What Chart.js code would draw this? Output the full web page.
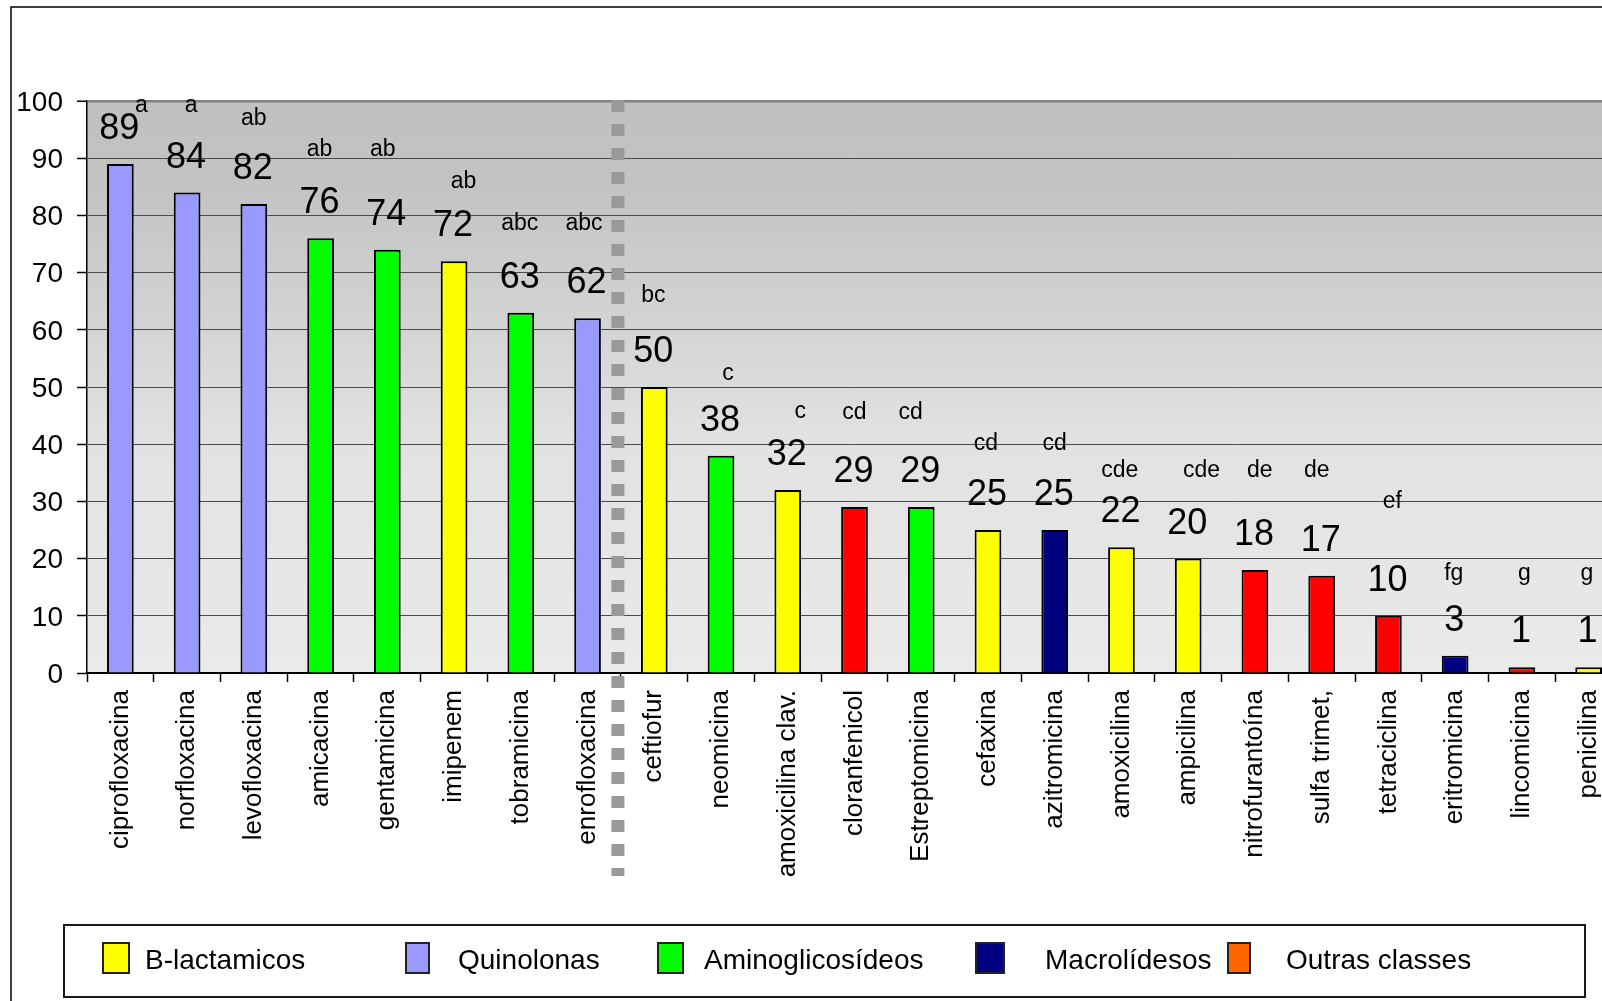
<!DOCTYPE html>
<html>
<head>
<meta charset="utf-8">
<title>Resistência antimicrobiana</title>
<script src="https://cdn.jsdelivr.net/npm/chart.js@4.4.1/dist/chart.umd.min.js"></script>
<style>
  html, body { margin: 0; padding: 0; background: #fff; overflow: hidden; }
  #wrap { width: 1602px; height: 1001px; overflow: hidden; position: relative; }
</style>
</head>
<body>
<div id="wrap"><canvas id="chart" width="1700" height="1001"></canvas></div>
<script>
// --- data ---
const antibiotics = [
    'ciprofloxacina', 'norfloxacina', 'levofloxacina', 'amicacina', 'gentamicina',
    'imipenem', 'tobramicina', 'enrofloxacina', 'ceftiofur', 'neomicina',
    'amoxicilina clav.', 'cloranfenicol', 'Estreptomicina', 'cefaxina', 'azitromicina',
    'amoxicilina', 'ampicilina', 'nitrofurantoína', 'sulfa trimet,', 'tetraciclina',
    'eritromicina', 'lincomicina', 'penicilina'
];
const resistance = [89, 84, 82, 76, 74, 72, 63, 62, 50, 38, 32, 29, 29, 25, 25, 22, 20, 18, 17, 10, 3, 1, 1];
// B = B-lactamicos, Q = Quinolonas, A = Aminoglicosídeos, M = Macrolídesos, O = outras
const drugClass = ['Q', 'Q', 'Q', 'A', 'A', 'B', 'A', 'Q', 'B', 'A', 'B', 'O', 'A', 'B', 'M', 'B', 'B', 'O', 'O', 'O', 'M', 'O', 'B'];
const groupLetters = ['a', 'a', 'ab', 'ab', 'ab', 'ab', 'abc', 'abc', 'bc', 'c', 'c', 'cd', 'cd', 'cd', 'cd', 'cde', 'cde', 'de', 'de', 'ef', 'fg', 'g', 'g'];
const yTicks = [0, 10, 20, 30, 40, 50, 60, 70, 80, 90, 100];
const legendKeys = ['B', 'Q', 'A', 'M', 'O'];
const legendLabels = ['B-lactamicos', 'Quinolonas', 'Aminoglicosídeos', 'Macrolídesos', 'Outras classes'];

// --- styles ---
const FONT = "'Liberation Sans', Arial, Helvetica, sans-serif";
const barColors = { B: '#FFFF00', Q: '#9999FF', A: '#00FF00', M: '#000080', O: '#FF0000' };
const legendColors = { B: '#FFFF00', Q: '#9999FF', A: '#00FF00', M: '#000080', O: '#FF6600' };

// where each significance letter sits: [x shift in px from bar centre, height in axis units]
const letterPlacement = [
    [21, 98.1], [4, 98.0], [0, 95.8], [-1, 90.3], [-4.5, 90.3], [9.5, 84.8],
    [-1, 77.4], [-3.6, 77.4], [-1, 64.8], [7, 51.2], [12.6, 44.6], [0, 44.4],
    [-10.6, 44.4], [-2, 38.9], [0, 38.9], [-1.6, 34.2], [13.3, 34.2], [4.8, 34.2],
    [-4.8, 34.2], [4, 28.8], [-1.4, 16.3], [2.6, 16.3], [-1.7, 16.3]
];

// legend item layout: [swatch x, swatch width, text x]
const legendLayout = [[103, 26, 145], [406, 23, 458], [658, 25, 704], [976, 28, 1045], [1228, 22, 1286]];

// gradient fill behind the bars
const plotBackground = {
    id: 'plotBackground',
    beforeDraw(chart) {
        const { ctx, chartArea: a } = chart;
        const g = ctx.createLinearGradient(0, a.top, 0, a.bottom);
        g.addColorStop(0, '#c0c0c0');
        g.addColorStop(0.15, '#c3c3c3');
        g.addColorStop(0.6, '#e2e2e2');
        g.addColorStop(1, '#eaeaea');
        ctx.save();
        ctx.fillStyle = g;
        ctx.fillRect(a.left, a.top, a.right - a.left, a.bottom - a.top);
        ctx.restore();
    }
};

// value labels, letters and the dotted separator between groups
const barAnnotations = {
    id: 'barAnnotations',
    afterDatasetsDraw(chart) {
        const { ctx } = chart;
        const meta = chart.getDatasetMeta(0);
        const yScale = chart.scales.y;
        const xScale = chart.scales.x;
        ctx.save();
        ctx.fillStyle = '#000';
        ctx.textAlign = 'center';
        ctx.textBaseline = 'alphabetic';
        meta.data.forEach((bar, i) => {
            ctx.font = '36px ' + FONT;
            ctx.fillText(String(resistance[i]), bar.x - 1, bar.y - 25);
            const [dx, level] = letterPlacement[i];
            ctx.font = '23px ' + FONT;
            ctx.fillText(groupLetters[i], bar.x + dx, yScale.getPixelForValue(level));
        });

        const sepX = xScale.getPixelForValue(7.5) - 3;
        ctx.strokeStyle = '#999999';
        ctx.lineWidth = 13;
        ctx.setLineDash([12, 12]);
        ctx.beginPath();
        ctx.moveTo(sepX, chart.chartArea.top - 1);
        ctx.lineTo(sepX, 876);
        ctx.stroke();
        ctx.restore();
    }
};

// outer frame and the boxed legend at the bottom
const frameAndLegend = {
    id: 'frameAndLegend',
    afterDraw(chart) {
        const { ctx } = chart;
        ctx.save();
        ctx.strokeStyle = '#000';
        ctx.lineWidth = 1.5;
        ctx.beginPath();
        ctx.moveTo(11, 1001);
        ctx.lineTo(11, 7);
        ctx.lineTo(chart.width, 7);
        ctx.stroke();

        ctx.lineWidth = 2;
        ctx.strokeStyle = '#1a1a1a';
        ctx.strokeRect(64, 925, 1521, 72);

        ctx.font = '28px ' + FONT;
        ctx.textAlign = 'left';
        ctx.textBaseline = 'alphabetic';
        legendKeys.forEach((k, i) => {
            const [sx, sw, tx] = legendLayout[i];
            ctx.fillStyle = legendColors[k];
            ctx.fillRect(sx, 943, sw, 30);
            ctx.lineWidth = 2;
            ctx.strokeStyle = '#222';
            ctx.strokeRect(sx, 943, sw, 30);
            ctx.fillStyle = '#000';
            ctx.fillText(legendLabels[i], tx, 969);
        });
        ctx.restore();
    }
};

new Chart(document.getElementById('chart'), {
    type: 'bar',
    data: {
        labels: antibiotics,
        datasets: [{
            data: resistance,
            backgroundColor: drugClass.map(c => barColors[c]),
            borderColor: '#000',
            borderWidth: 2,
            barPercentage: 0.4,
            categoryPercentage: 1.0
        }]
    },
    options: {
        responsive: false,
        animation: false,
        layout: { padding: { top: 101, right: 78, bottom: 0, left: 0 } },
        plugins: { legend: { display: false }, tooltip: { enabled: false } },
        scales: {
            x: {
                ticks: {
                    color: '#000',
                    font: { family: FONT, size: 26 },
                    minRotation: 90,
                    maxRotation: 90,
                    autoSkip: false,
                    padding: 8
                },
                grid: { offset: true, drawOnChartArea: false, tickColor: '#000', tickLength: 9, tickWidth: 1.5 },
                border: { color: '#000', width: 2 },
                afterFit: s => { s.height = 328; }
            },
            y: {
                min: 0,
                max: 100,
                afterBuildTicks: s => { s.ticks = yTicks.map(v => ({ value: v })); },
                ticks: { color: '#000', font: { family: FONT, size: 28 }, padding: 14, labelOffset: 2 },
                grid: {
                    color: c => (c.tick && c.tick.value === 100) ? '#808080' : '#4a4a4a',
                    lineWidth: c => (c.tick && c.tick.value === 100) ? 2.5 : 1,
                    tickColor: '#000',
                    tickWidth: 1.5,
                    tickLength: 10
                },
                border: { color: '#000', width: 1.5 },
                afterFit: s => { s.width = 87; }
            }
        }
    },
    plugins: [plotBackground, barAnnotations, frameAndLegend]
});
</script>
</body>
</html>
